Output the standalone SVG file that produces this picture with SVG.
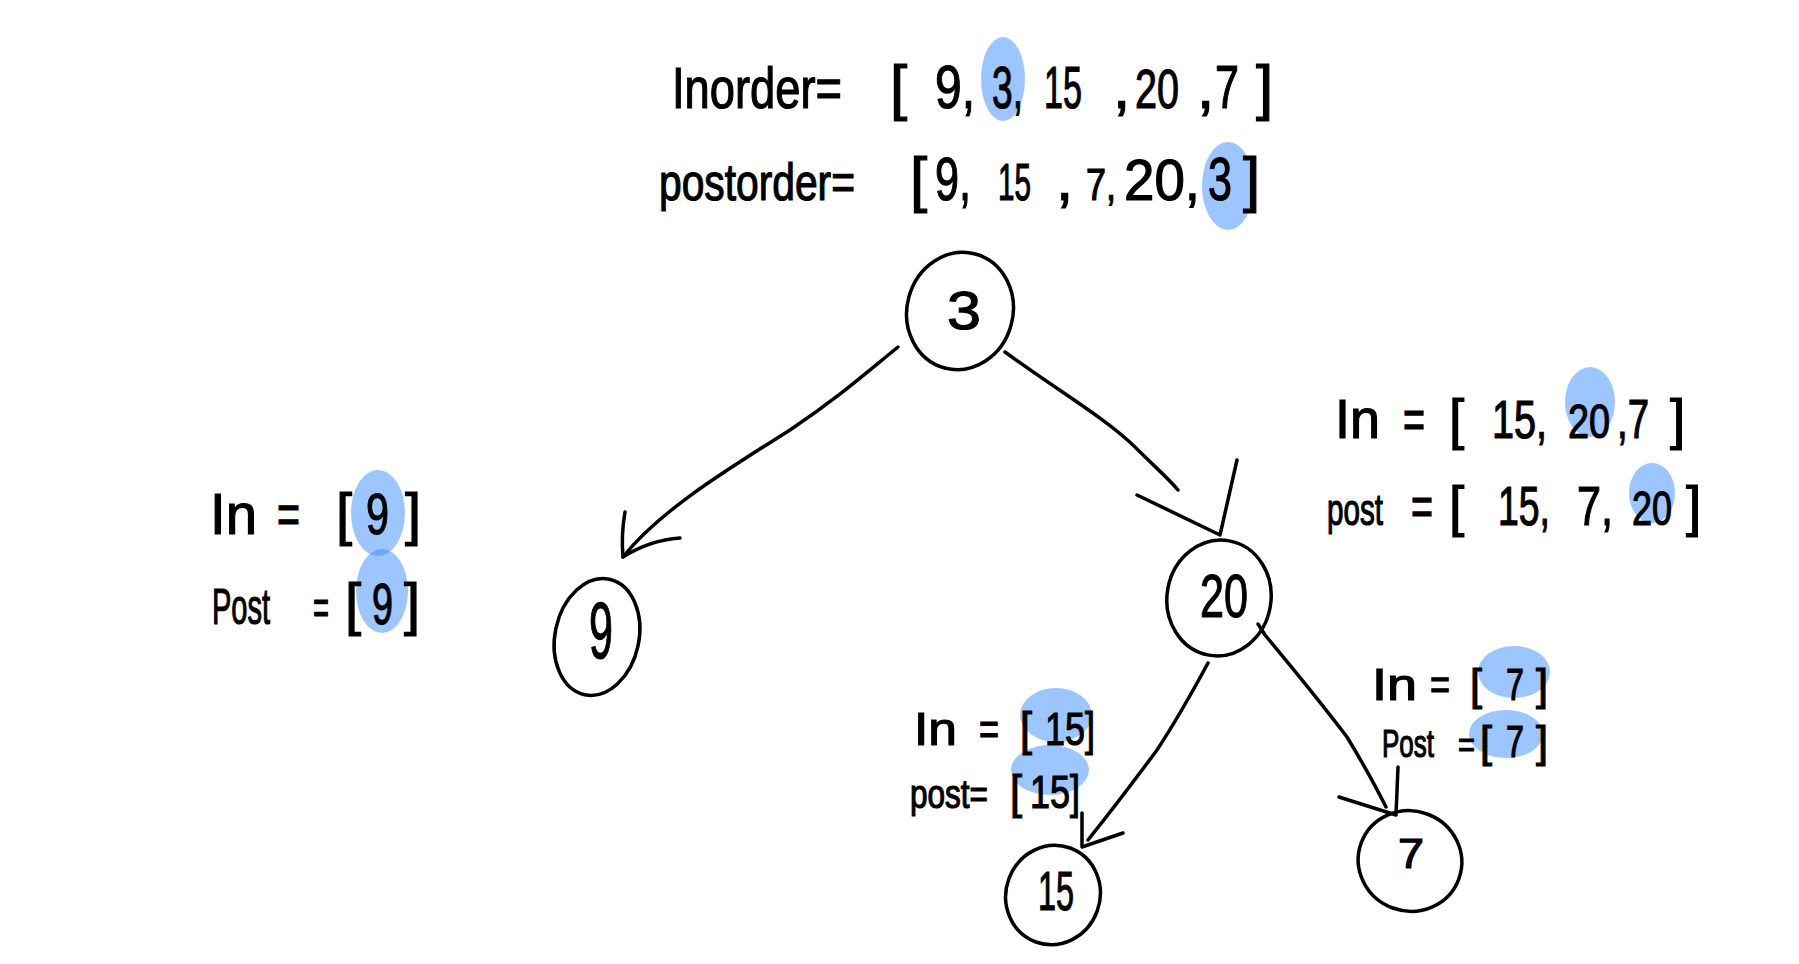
<svg xmlns="http://www.w3.org/2000/svg" width="1799" height="964" viewBox="0 0 1799 964">
<style>
.hl{fill:#3b8cff;fill-opacity:0.5;stroke:none}
.t{font-family:"Liberation Sans",Arial,sans-serif;fill:#000;stroke:#000;stroke-width:1.2}
.f62{font-size:62px}.f58{font-size:58px}.f55{font-size:55px}.f46{font-size:46px}.f44{font-size:44px}
.node{fill:none;stroke:#000;stroke-width:3.5}
.edge{fill:none;stroke:#000;stroke-width:3.5;stroke-linecap:round;stroke-linejoin:round}
</style>
<rect width="1799" height="964" fill="#fff"/>
<g id="highlights">
<ellipse class="hl" cx="1003" cy="79" rx="22" ry="42"/>
<ellipse class="hl" cx="1228" cy="186" rx="26" ry="44"/>
<ellipse class="hl" cx="378" cy="513" rx="27" ry="43"/>
<ellipse class="hl" cx="382" cy="591" rx="26" ry="42"/>
<ellipse class="hl" cx="1590" cy="402" rx="25" ry="35"/>
<ellipse class="hl" cx="1652" cy="493" rx="23" ry="30"/>
<ellipse class="hl" cx="1056" cy="715" rx="36" ry="27"/>
<ellipse class="hl" cx="1050" cy="770" rx="39" ry="25"/>
<ellipse class="hl" cx="1514" cy="672" rx="36" ry="26"/>
<ellipse class="hl" cx="1506" cy="734" rx="37" ry="24"/>
</g>
<g id="inorder">
<text class="t" font-size="58" x="672" y="108" textLength="170" lengthAdjust="spacingAndGlyphs">Inorder=</text>
<text class="t f62" x="890" y="108">[</text>
<text class="t f62" x="935" y="108" textLength="40" lengthAdjust="spacingAndGlyphs">9,</text>
<text class="t" font-size="60" x="992" y="108" textLength="31" lengthAdjust="spacingAndGlyphs">3,</text>
<text class="t" font-size="60" x="1044" y="108" textLength="38" lengthAdjust="spacingAndGlyphs">15</text>
<text class="t f62" x="1113" y="108">,</text>
<text class="t" font-size="55" x="1135" y="108" textLength="44" lengthAdjust="spacingAndGlyphs">20</text>
<text class="t f62" x="1197" y="108">,</text>
<text class="t f62" x="1215" y="108" textLength="24" lengthAdjust="spacingAndGlyphs">7</text>
<text class="t f62" x="1256" y="108">]</text>
</g>
<g id="postorder">
<text class="t" font-size="52" x="659" y="200" textLength="196" lengthAdjust="spacingAndGlyphs">postorder=</text>
<text class="t f62" x="910" y="200">[</text>
<text class="t f62" x="935" y="200" textLength="36" lengthAdjust="spacingAndGlyphs">9,</text>
<text class="t" font-size="52" x="998" y="200" textLength="33" lengthAdjust="spacingAndGlyphs">15</text>
<text class="t f62" x="1056" y="200">,</text>
<text class="t" font-size="45" x="1086" y="200" textLength="30" lengthAdjust="spacingAndGlyphs">7,</text>
<text class="t" font-size="58" x="1124" y="200" textLength="76" lengthAdjust="spacingAndGlyphs">20,</text>
<text class="t f62" x="1208" y="200" textLength="24" lengthAdjust="spacingAndGlyphs">3</text>
<text class="t f62" x="1243" y="200">]</text>
</g>
<g id="label-9">
<text class="t f58" x="210" y="534" textLength="47" lengthAdjust="spacingAndGlyphs">In</text>
<text class="t f58" x="277" y="534" textLength="23" lengthAdjust="spacingAndGlyphs">=</text>
<text class="t f58" x="336" y="534">[</text>
<text class="t f58" x="366" y="534" textLength="23" lengthAdjust="spacingAndGlyphs">9</text>
<text class="t f58" x="405" y="534">]</text>
<text class="t" font-size="50" x="212" y="624" textLength="58" lengthAdjust="spacingAndGlyphs">Post</text>
<text class="t" font-size="50" x="313" y="624" textLength="16" lengthAdjust="spacingAndGlyphs">=</text>
<text class="t f58" x="345" y="624">[</text>
<text class="t f58" x="372" y="624" textLength="21" lengthAdjust="spacingAndGlyphs">9</text>
<text class="t f58" x="404" y="624">]</text>
</g>
<g id="label-20">
<text class="t f55" x="1335" y="438" textLength="45" lengthAdjust="spacingAndGlyphs">In</text>
<text class="t f55" x="1403" y="438" textLength="22" lengthAdjust="spacingAndGlyphs">=</text>
<text class="t f55" x="1449" y="438">[</text>
<text class="t" font-size="53" x="1492" y="438" textLength="55" lengthAdjust="spacingAndGlyphs">15,</text>
<text class="t" font-size="48" x="1568" y="438" textLength="42" lengthAdjust="spacingAndGlyphs">20</text>
<text class="t f55" x="1617" y="438" textLength="32" lengthAdjust="spacingAndGlyphs">,7</text>
<text class="t f55" x="1670" y="438">]</text>
<text class="t" font-size="44" x="1327" y="525" textLength="56" lengthAdjust="spacingAndGlyphs">post</text>
<text class="t f55" x="1411" y="525" textLength="22" lengthAdjust="spacingAndGlyphs">=</text>
<text class="t f55" x="1449" y="525">[</text>
<text class="t f55" x="1498" y="525" textLength="52" lengthAdjust="spacingAndGlyphs">15,</text>
<text class="t f55" x="1577" y="525" textLength="36" lengthAdjust="spacingAndGlyphs">7,</text>
<text class="t" font-size="48" x="1632" y="525" textLength="40" lengthAdjust="spacingAndGlyphs">20</text>
<text class="t f55" x="1686" y="525">]</text>
</g>
<g id="label-15">
<text class="t f46" x="914" y="745" textLength="43" lengthAdjust="spacingAndGlyphs">In</text>
<text class="t f46" x="979" y="745" textLength="20" lengthAdjust="spacingAndGlyphs">=</text>
<text class="t f46" x="1020" y="745" textLength="12" lengthAdjust="spacingAndGlyphs">[</text>
<text class="t f46" x="1045" y="745" textLength="50" lengthAdjust="spacingAndGlyphs">15]</text>
<text class="t" font-size="40" x="910" y="808" textLength="78" lengthAdjust="spacingAndGlyphs">post=</text>
<text class="t f46" x="1010" y="808" textLength="12" lengthAdjust="spacingAndGlyphs">[</text>
<text class="t f46" x="1030" y="808" textLength="50" lengthAdjust="spacingAndGlyphs">15]</text>
</g>
<g id="label-7">
<text class="t f44" x="1372" y="700" textLength="45" lengthAdjust="spacingAndGlyphs">In</text>
<text class="t f44" x="1430" y="700" textLength="20" lengthAdjust="spacingAndGlyphs">=</text>
<text class="t f44" x="1470" y="700" textLength="12" lengthAdjust="spacingAndGlyphs">[</text>
<text class="t f44" x="1506" y="700" textLength="18" lengthAdjust="spacingAndGlyphs">7</text>
<text class="t f44" x="1536" y="700" textLength="12" lengthAdjust="spacingAndGlyphs">]</text>
<text class="t" font-size="38" x="1382" y="757" textLength="52" lengthAdjust="spacingAndGlyphs">Post</text>
<text class="t" font-size="36" x="1458" y="757" textLength="17" lengthAdjust="spacingAndGlyphs">=</text>
<text class="t f44" x="1480" y="757" textLength="12" lengthAdjust="spacingAndGlyphs">[</text>
<text class="t f44" x="1506" y="757" textLength="18" lengthAdjust="spacingAndGlyphs">7</text>
<text class="t f44" x="1536" y="757" textLength="12" lengthAdjust="spacingAndGlyphs">]</text>
</g>
<g id="connectors">
<path class="edge" d="M898,347 C860,378 835,400 790,430 C730,468 660,510 623,557"/>
<path class="edge" d="M625,512 Q621,535 623,557 Q650,540 680,538"/>
<path class="edge" d="M1005,352 C1060,392 1105,418 1135,447 C1155,467 1168,478 1178,490"/>
<path class="edge" d="M1137,495 L1220,535 M1237,460 L1220,535"/>
<path class="edge" d="M1208,663 Q1180,715 1157,750 Q1120,800 1088,840"/>
<path class="edge" d="M1082,813 L1082,847 L1123,833"/>
<path class="edge" d="M1258,624 Q1262,630 1265,635 Q1315,695 1347,737 Q1370,775 1386,807"/>
<path class="edge" d="M1339,797 L1396,815 M1398,767 L1396,815"/>
</g>
<g id="node-3">
<ellipse class="node" cx="960" cy="311" rx="53" ry="59" transform="rotate(15 960 311)"/>
<text class="t" font-size="54" x="947" y="329" textLength="34" lengthAdjust="spacingAndGlyphs">3</text>
</g>
<g id="node-9">
<ellipse class="node" cx="597" cy="637" rx="42" ry="59" transform="rotate(12 597 637)"/>
<text class="t" font-size="80" x="589" y="658" textLength="24" lengthAdjust="spacingAndGlyphs">9</text>
</g>
<g id="node-20">
<ellipse class="node" cx="1219" cy="598" rx="52" ry="58" transform="rotate(10 1219 598)"/>
<text class="t" font-size="61" x="1200" y="617" textLength="48" lengthAdjust="spacingAndGlyphs">20</text>
</g>
<g id="node-15">
<ellipse class="node" cx="1053" cy="895" rx="47" ry="50" transform="rotate(20 1053 895)"/>
<text class="t" font-size="56" x="1038" y="910" textLength="36" lengthAdjust="spacingAndGlyphs">15</text>
</g>
<g id="node-7">
<ellipse class="node" cx="1410" cy="861" rx="52" ry="50" transform="rotate(20 1410 861)"/>
<text class="t" font-size="42" x="1398" y="868" textLength="26" lengthAdjust="spacingAndGlyphs">7</text>
</g>
</svg>
